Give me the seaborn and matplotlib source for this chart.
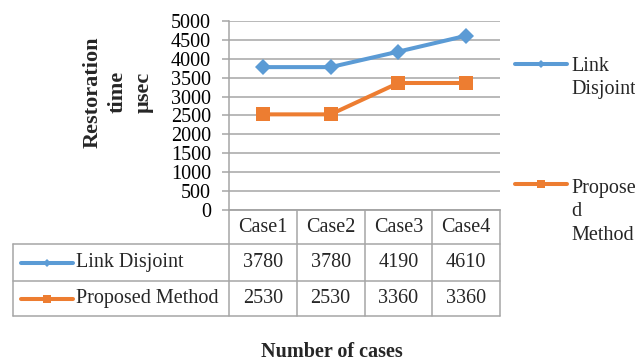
import matplotlib
matplotlib.use("Agg")
import matplotlib.pyplot as plt
import pandas as pd
import seaborn as sns
from matplotlib.lines import Line2D

# Chart data
cases = ["Case1", "Case2", "Case3", "Case4"]
link_disjoint = [3780, 3780, 4190, 4610]
proposed_method = [2530, 2530, 3360, 3360]
series_names = ["Link Disjoint", "Proposed Method"]
legend_labels = ["Link\nDisjoint", "Propose\nd\nMethod"]
y_ticks = list(range(0, 5001, 500))

series_values = [link_disjoint, proposed_method]
colors = ["#5B9BD5", "#ED7D31"]
markers = ["D", "s"]
marker_sizes = [8.0, 9.4]
legend_marker_sizes = [3.8, 6.2]

df = pd.DataFrame({
    "case": cases * 2,
    "time": link_disjoint + proposed_method,
    "series": [series_names[0]] * 4 + [series_names[1]] * 4,
})

sns.set_theme(style="white")
plt.rcParams["font.family"] = ["Liberation Serif", "DejaVu Serif"]

W, H = 635, 363
fig = plt.figure(figsize=(W / 100, H / 100), dpi=100)
fig.patch.set_facecolor("white")


def box(l, t, r, b):
    return [l / W, 1 - b / H, (r - l) / W, (b - t) / H]


ax = fig.add_axes(box(229, 21, 500, 210))
grid_col = "#A6A6A6"

for name, color, mk, ms in zip(series_names, colors, markers, marker_sizes):
    sns.lineplot(data=df[df["series"] == name], x="case", y="time", ax=ax,
                 color=color, marker=mk, markersize=ms, markeredgewidth=0,
                 linewidth=2.9, sort=False, legend=False, errorbar=None)

ax.set_ylim(0, 5000)
ax.set_xlim(-0.5, 3.5)
ax.set_yticks(y_ticks)
ax.set_yticklabels([str(v) for v in y_ticks])
ax.set_xticks([])
ax.set_xlabel("")
ax.set_ylabel("")
ax.grid(axis="y", color=grid_col, linewidth=1.1)
ax.set_axisbelow(True)
for side in ["top", "right"]:
    ax.spines[side].set_visible(False)
for side in ["left", "bottom"]:
    ax.spines[side].set_color(grid_col)
    ax.spines[side].set_linewidth(1.1)
ax.tick_params(axis="y", left=True, length=5, width=1.1, color=grid_col,
               pad=8, labelsize=14.5, labelcolor="black")

# Overlay in pixel coordinates for the data table and the side legend
over = fig.add_axes([0, 0, 1, 1])
over.set_xlim(0, W)
over.set_ylim(H, 0)
over.axis("off")


def col_px(x):
    disp = ax.transData.transform((x, 0))
    return over.transData.inverted().transform(disp)[0]


edges = [col_px(i - 0.5) for i in range(len(cases) + 1)]
centers = [col_px(i) for i in range(len(cases))]
row_edges = [210, 244, 281, 316]
table_left = 13
lw = 1.1

for x in edges:
    over.plot([x, x], [row_edges[0], row_edges[-1]], color=grid_col, lw=lw)
over.plot([table_left, table_left], [row_edges[1], row_edges[-1]], color=grid_col, lw=lw)
over.plot([edges[0], edges[-1]], [row_edges[0]] * 2, color=grid_col, lw=lw)
for y in row_edges[1:]:
    over.plot([table_left, edges[-1]], [y, y], color=grid_col, lw=lw)

fs = 14.5
hdr_y = (row_edges[0] + row_edges[1]) / 2
for cx, label in zip(centers, cases):
    over.text(cx, hdr_y, label, ha="center", va="center", fontsize=fs)

for r, (name, vals, color, mk, lms) in enumerate(
        zip(series_names, series_values, colors, markers, legend_marker_sizes)):
    ry = (row_edges[r + 1] + row_edges[r + 2]) / 2
    over.add_line(Line2D([21, 73], [ry, ry], color=color, lw=2.9))
    over.add_line(Line2D([47], [ry], color=color, marker=mk, markersize=lms,
                         markeredgewidth=0, lw=0))
    over.text(76, ry, name, ha="left", va="center", fontsize=fs)
    for cx, v in zip(centers, vals):
        over.text(cx, ry, str(v), ha="center", va="center", fontsize=fs)

# Side legend
legend_y = [64, 184]
legend_text_y = [78, 212]
for color, mk, lms, ly, ty, lab in zip(colors, markers, legend_marker_sizes,
                                       legend_y, legend_text_y, legend_labels):
    over.add_line(Line2D([515, 567], [ly, ly], color=color, lw=2.9))
    over.add_line(Line2D([541], [ly], color=color, marker=mk, markersize=lms,
                         markeredgewidth=0, lw=0))
    over.text(571, ty, lab, ha="left", va="center", fontsize=fs,
              linespacing=1.35)

# Axis titles
over.text(118, 92, "Restoration\ntime\nµsec", rotation=90, ha="center",
          va="center", fontsize=16, fontweight="bold", multialignment="center",
          linespacing=1.38)
over.text(332, 352, "Number of cases", ha="center", va="center",
          fontsize=14.5, fontweight="bold")

fig.savefig("out.png", dpi=100, facecolor="white")
